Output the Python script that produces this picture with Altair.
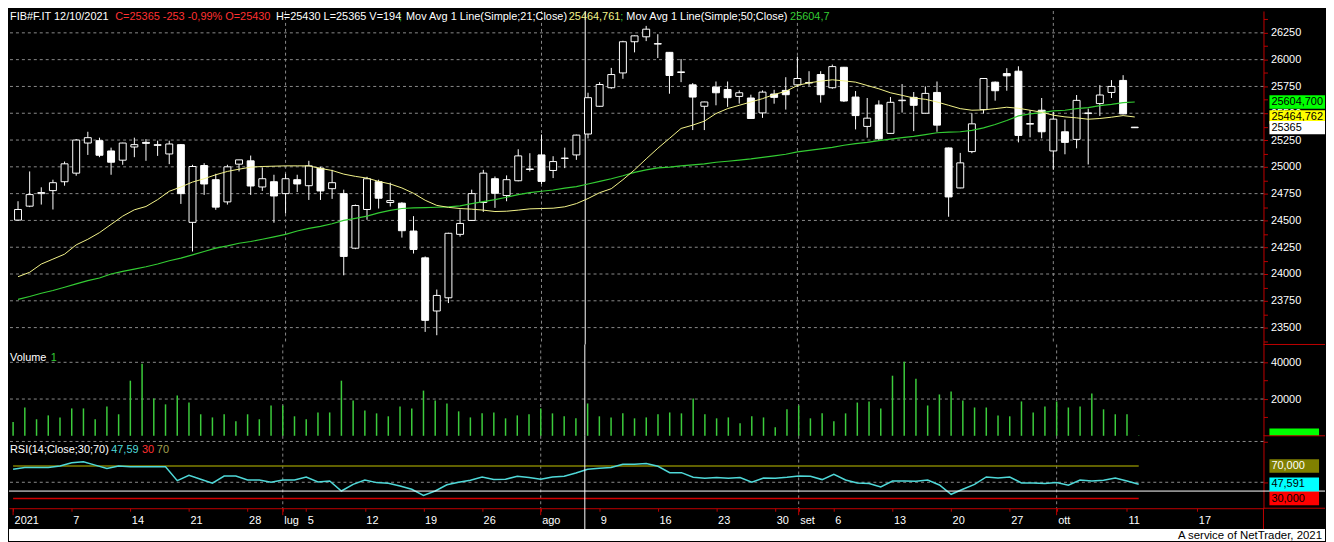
import altair as alt
import pandas as pd

FONT = "Liberation Sans"
AXRED = "#c00000"
GRID = "#8a8a8a"

# ---- data: one bar per trading day, index 0 = 31/05/2021 ... 96 = 12/10/2021 ----
opens = [24503, 24633, 24750, 24778, 24861, 24941, 25222, 25244, 25148, 25062,
         25185, 25228, 25200, 25120, 25207, 24482, 25012, 24880, 24673, 25025,
         25056, 24812, 24861, 24750, 24880, 24824, 24988, 24796, 24750, 24241,
         24602, 24861, 24667, 24661, 24401, 24151, 23655, 23778, 24370, 24500,
         24667, 24889, 24732, 24870, 24975, 25111, 24966, 25078, 25111, 25306,
         25565, 25738, 25876, 26167, 26213, 26145, 26068, 25880, 25765, 25565,
         25744, 25722, 25657, 25642, 25503, 25679, 25713, 25765, 25782, 25861,
         25738, 25929, 25651, 25377, 25577, 25312, 25617, 25648, 25500, 25694,
         25176, 24803, 25142, 25534, 25790, 25870, 25892, 25398, 25528, 25148,
         25327, 25256, 25497, 25590, 25694, 25806, 25370]
highs = [24679, 24957, 24809, 24880, 25049, 25259, 25327, 25272, 25179, 25225,
         25272, 25259, 25244, 25244, 25213, 25019, 25034, 24935, 25019, 25065,
         25105, 24994, 24926, 24935, 24926, 25056, 25000, 24972, 24787, 24648,
         24907, 24880, 24852, 24670, 24540, 24164, 23855, 24385, 24602, 24787,
         24972, 24910, 24920, 25164, 25127, 25302, 25099, 25179, 25300, 25691,
         25790, 25923, 26176, 26225, 26315, 26237, 26070, 26006, 25781, 25608,
         25796, 25796, 25713, 25673, 25713, 25719, 25836, 26028, 25892, 25892,
         25954, 25932, 25707, 25642, 25620, 25651, 25772, 25698, 25750, 25796,
         25180, 25130, 25500, 25828, 25796, 25920, 25938, 25528, 25642, 25512,
         25441, 25670, 25543, 25762, 25809, 25855, 25372]
lows = [24500, 24624, 24648, 24602, 24824, 24917, 25111, 25090, 24926, 25019,
        25090, 25056, 25102, 25025, 24654, 24210, 24738, 24599, 24648, 24957,
        24738, 24775, 24479, 24565, 24765, 24691, 24691, 24701, 23988, 24232,
        24506, 24611, 24630, 24340, 24191, 23460, 23429, 23729, 24349, 24495,
        24580, 24617, 24679, 24865, 24957, 24840, 24895, 24988, 25065, 25265,
        25560, 25728, 25821, 26068, 26173, 26015, 25682, 25790, 25343, 25343,
        25574, 25559, 25590, 25448, 25457, 25589, 25534, 25744, 25756, 25599,
        25728, 25605, 25349, 25272, 25247, 25308, 25506, 25333, 25497, 25327,
        24534, 24800, 25127, 25497, 25617, 25710, 25228, 25275, 25266, 24972,
        25117, 25173, 25022, 25475, 25642, 25490, 25365]
closes = [24602, 24741, 24760, 24852, 25028, 25250, 25272, 25108, 25043, 25222,
          25207, 25219, 25207, 25213, 24750, 25003, 24840, 24624, 25000, 25065,
          24821, 24889, 24728, 24889, 24840, 25009, 24775, 24852, 24164, 24639,
          24889, 24707, 24685, 24404, 24229, 23568, 23800, 24380, 24472, 24750,
          24941, 24753, 24880, 25102, 24980, 24864, 25049, 25082, 25296, 25645,
          25768, 25861, 26167, 26222, 26284, 26150, 25852, 25886, 25651, 25605,
          25691, 25645, 25691, 25451, 25697, 25648, 25673, 25824, 25787, 25673,
          25935, 25614, 25478, 25454, 25262, 25602, 25622, 25574, 25685, 25389,
          24719, 25037, 25401, 25824, 25710, 25849, 25293, 25404, 25327, 25445,
          25228, 25620, 25503, 25670, 25750, 25494, 25365]
ma21 = [23975, 24016, 24093, 24139, 24185, 24272, 24324, 24386, 24463, 24540,
        24599, 24630, 24694, 24772, 24812, 24858, 24889, 24926, 24957, 24978,
        24997, 25003, 25006, 25009, 25009, 25009, 24985, 24966, 24932, 24911,
        24895, 24864, 24840, 24803, 24753, 24688, 24640, 24622, 24611, 24605,
        24596, 24583, 24586, 24596, 24608, 24611, 24614, 24627, 24657, 24704,
        24759, 24796, 24880, 24972, 25074, 25173, 25265, 25358, 25389, 25426,
        25497, 25543, 25574, 25605, 25636, 25675, 25704, 25759, 25784, 25799,
        25812, 25802, 25790, 25759, 25728, 25691, 25667, 25642, 25630, 25605,
        25574, 25543, 25528, 25531, 25543, 25556, 25546, 25528, 25509, 25482,
        25466, 25457, 25444, 25451, 25463, 25478, 25465]
ma50 = [23763, 23790, 23821, 23846, 23877, 23908, 23938, 23963, 24000, 24025,
        24046, 24068, 24093, 24124, 24148, 24179, 24210, 24241, 24262, 24287,
        24303, 24324, 24346, 24370, 24401, 24426, 24444, 24469, 24500, 24519,
        24540, 24571, 24593, 24611, 24617, 24620, 24623, 24627, 24636, 24657,
        24676, 24694, 24716, 24741, 24759, 24772, 24784, 24802, 24815, 24840,
        24864, 24889, 24917, 24948, 24972, 24991, 24997, 25009, 25019, 25028,
        25043, 25052, 25062, 25074, 25089, 25102, 25117, 25139, 25154, 25167,
        25182, 25201, 25216, 25228, 25244, 25259, 25272, 25284, 25300, 25318,
        25324, 25327, 25340, 25364, 25395, 25432, 25475, 25494, 25506, 25522,
        25528, 25543, 25553, 25571, 25583, 25599, 25605]
volume = [7500, 15400, 9000, 11100, 10000, 14900, 14900, 9000, 16000, 11700,
          30000, 39200, 20300, 17100, 21900, 18100, 11700, 10000, 11700, 7900,
          11700, 9000, 16500, 16500, 10600, 9000, 12700, 12700, 30000, 19200,
          13800, 12200, 10600, 16000, 14900, 24600, 19200, 17600, 13300, 10000,
          12200, 12700, 9500, 11100, 11700, 14900, 12200, 10600, 9500, 17600,
          10600, 10000, 12200, 9500, 10000, 11700, 12700, 12200, 20300, 11700,
          9500, 10000, 6800, 10600, 10000, 4600, 14400, 16500, 9500, 12200,
          7900, 12200, 18100, 18700, 14900, 32700, 40300, 31100, 16500, 22500,
          24100, 19200, 15400, 15400, 11100, 10600, 18700, 12700, 16000, 18700,
          15400, 16000, 23000, 14400, 11700, 11700, 194]
rsi = [66, 68, 68, 68, 70, 74, 75, 71, 67, 70,
       69, 69, 69, 69, 52, 58.6, 53.7, 49, 57.7, 57.7,
       52.8, 52.8, 50, 52.8, 52.8, 56.5, 50.4, 51.6, 39.3, 47.5,
       52.8, 49.6, 48.8, 45.5, 41.4, 34, 39.3, 47, 50, 52.5,
       56.5, 53.3, 53.7, 57.4, 55.8, 53.7, 56.5, 57.4, 61.4, 66,
       67.2, 68, 72, 72, 72.9, 69.6, 61.8, 61.8, 56.1, 54.9,
       55.8, 54.9, 55.8, 50, 55.3, 54.9, 56.1, 57.7, 57.4, 53.3,
       59.8, 52.8, 49.2, 48.4, 44.2, 51.6, 51.6, 51.2, 52.8, 46.7,
       35.3, 41.4, 47.5, 56.5, 55.3, 56.5, 49.2, 49.2, 48.4, 49.6,
       46.3, 52.8, 51.6, 52.5, 55.3, 51.6, 47.59]

x_tick_idx = [0, 5, 10, 15, 20, 23, 25, 30, 35, 40, 45, 50, 55, 60, 65, 67,
              70, 75, 80, 85, 89, 95, 101]
x_tick_lbl = ["2021", "7", "14", "21", "28", "lug", "5", "12", "19", "26", "ago",
              "9", "16", "23", "30", "set", "6", "13", "20", "27", "ott", "11", "17"]
month_start_idx = [0, 23, 45, 67, 89]
month_line_idx = [23, 45, 67, 89]
crosshair_idx = [48.76]
crosshair_rsi = [39.24]

price_grid = [23500, 23750, 24000, 24250, 24500, 24750, 25000, 25250, 25500,
              25750, 26000, 26250]
price_ticks = [23375 + 125 * k for k in range(25)]
vol_grid = [20000, 40000]
vol_ticks = [10000, 20000, 30000, 40000]
rsi_grid = [50, 100]

price_tag_val = [25604.7, 25464.762, 25365]
price_tag_txt = ["25604,700", "25464,762", "25365"]
price_tag_bg = ["#00ff00", "#ffff00", "#ffffff"]
rsi_tag_val = [70, 47.591, 30]
rsi_tag_txt = ["70,000", "47,591", "30,000"]
rsi_tag_bg = ["#808000", "#00ffff", "#ff0000"]
rsi_tag_fg = ["#ffffff", "#000000", "#000000"]
vol_tag_val = [194]

# ---- layout ----
W = 1264
FULLW = 1326
H_MAIN, H_VOL, H_RSI, H_FOOT = 336, 92, 73, 33

ONE = pd.DataFrame({"k": [0]})
df = pd.DataFrame({"idx": list(range(len(closes))), "open": opens, "high": highs,
                   "low": lows, "close": closes, "ma21": ma21, "ma50": ma50,
                   "vol": volume, "rsi": rsi})
df["dir"] = ["up" if c >= o else "down" for o, c in zip(opens, closes)]

XS = alt.Scale(domain=[-0.35, 106.64], nice=False, zero=False)
YS_P = alt.Scale(domain=[23342.6, 26453.7], nice=False, zero=False)
YS_V = alt.Scale(domain=[0, 49700], nice=False, zero=False)
YS_R = alt.Scale(domain=[18.2, 106.96], nice=False, zero=False)

lbl_expr = " : ".join(f"datum.value == {v} ? '{l}'" for v, l in zip(x_tick_idx, x_tick_lbl)) + " : ''"
XAX = alt.Axis(orient="bottom", values=x_tick_idx, labelExpr=lbl_expr, grid=False,
               domainColor=AXRED, tickColor=AXRED, tickSize=3, labelColor="white",
               labelFont=FONT, labelFontSize=11, labelAlign="left", labelBaseline="top",
               labelPadding=3, labelOffset=1, labelOverlap=False, labelFlush=False,
               title=None)


def yaxis(values, expr, labels=True):
    return alt.Axis(orient="right", values=values, labelExpr=expr, format="d",
                    grid=False, domainColor=AXRED, tickColor=AXRED, tickSize=4,
                    labels=labels, labelColor="white", labelFont=FONT, labelFontSize=11,
                    labelPadding=3, labelOverlap=False, labelFlush=False, title=None)


YAX_P = yaxis(price_ticks, "datum.value % 250 == 0 ? datum.label : ''")
YAX_V = yaxis(vol_ticks, "datum.value % 20000 == 0 ? datum.label : ''")
YAX_R = yaxis(rsi_grid, "''", labels=False)


def X(field, axis=None):
    return alt.X(f"{field}:Q", scale=XS, axis=axis)


def txt(s, x, y, color, size=11, align="left", baseline="middle"):
    return alt.Chart(ONE).mark_text(text=s, align=align, baseline=baseline, color=color,
                                    font=FONT, fontSize=size, clip=False).encode(
        x=alt.value(x), y=alt.value(y))


def hline_px(x, x2, y, color):
    return alt.Chart(ONE).mark_rule(color=color, clip=False).encode(
        x=alt.value(x), x2=alt.value(x2), y=alt.value(y))


def vline_px(x, y, y2, color):
    return alt.Chart(ONE).mark_rule(color=color, clip=False).encode(
        x=alt.value(x), y=alt.value(y), y2=alt.value(y2))


months_df = pd.DataFrame({"m": month_line_idx})
cross_df = pd.DataFrame({"c": crosshair_idx})

# ---------------- main price panel ----------------
def YP(f):
    return alt.Y(f"{f}:Q", scale=YS_P, axis=YAX_P)


main_layers = [
    alt.Chart(pd.DataFrame({"g": price_grid})).mark_rule(color=GRID, strokeDash=[3, 3]).encode(y=YP("g")),
    alt.Chart(months_df).mark_rule(color=GRID, strokeDash=[3, 3]).encode(x=X("m")),
    alt.Chart(cross_df).mark_rule(color="white").encode(x=X("c")),
    alt.Chart(df).mark_rule(color="white", strokeWidth=1).encode(x=X("idx"), y=YP("low"), y2="high:Q"),
    alt.Chart(df).mark_bar(size=7, stroke="white", strokeWidth=1).encode(
        x=X("idx"), y=YP("open"), y2="close:Q",
        fill=alt.Fill("dir:N", scale=alt.Scale(domain=["up", "down"], range=["#000000", "#ffffff"]), legend=None)),
    alt.Chart(df).mark_line(color="#33cc33", strokeWidth=1.2).encode(x=X("idx"), y=YP("ma50")),
    alt.Chart(df).mark_line(color="#f4f48a", strokeWidth=1).encode(x=X("idx"), y=YP("ma21")),
]
tags_p = pd.DataFrame({"i": [0, 1, 2], "v": price_tag_val, "t": price_tag_txt, "bg": price_tag_bg})
for i in range(3):
    main_layers.append(
        alt.Chart(tags_p).transform_filter(f"datum.i == {i}")
        .transform_calculate(lo="datum.v - 62", hi="datum.v + 62")
        .mark_rect(clip=False).encode(x=alt.value(1270), x2=alt.value(FULLW),
                                      y=YP("lo"), y2="hi:Q", fill=alt.Fill("bg:N", scale=None)))
    main_layers.append(
        alt.Chart(tags_p).transform_filter(f"datum.i == {i}")
        .mark_text(align="left", baseline="middle", font=FONT, fontSize=11, color="black", clip=False)
        .encode(x=alt.value(1272), y=YP("v"), text="t:N"))

main_layers += [
    txt("FIB#F.IT 12/10/2021", 1, 0, "white", baseline="top"),
    txt("C=25365 -253 -0,99% O=25430", 107, 0, "#ff3030", baseline="top"),
    txt("H=25430 L=25365 V=194", 269, 0, "white", baseline="top"),
    txt(";", 393, 0, "#33cc33", baseline="top"),
    txt("Mov Avg 1 Line(Simple;21;Close)", 400, 0, "white", baseline="top"),
    txt("25464,761", 564, 0, "#f4f48a", baseline="top"),
    txt(";", 616, 0, "#33cc33", baseline="top"),
    txt("Mov Avg 1 Line(Simple;50;Close)", 622, 0, "white", baseline="top"),
    txt("25604,7", 787, 0, "#33cc33", baseline="top"),
]
main = alt.layer(*main_layers).properties(width=W, height=H_MAIN)

# ---------------- volume panel ----------------
def YV(f):
    return alt.Y(f"{f}:Q", scale=YS_V, axis=YAX_V)


vol_layers = [
    alt.Chart(pd.DataFrame({"g": vol_grid})).mark_rule(color=GRID, strokeDash=[3, 3]).encode(y=YV("g")),
    alt.Chart(months_df).mark_rule(color=GRID, strokeDash=[3, 3]).encode(x=X("m")),
    alt.Chart(df).transform_calculate(z0="0").mark_rule(color="#3ccc3c", strokeWidth=1.5).encode(
        x=X("idx"), y=YV("vol"), y2="z0:Q"),
    alt.Chart(cross_df).mark_rule(color="white").encode(x=X("c")),
    alt.Chart(pd.DataFrame({"v": vol_tag_val})).transform_calculate(lo="0", hi="datum.v + 3800")
    .mark_rect(color="#00ff00", clip=False).encode(x=alt.value(1270), x2=alt.value(1320), y=YV("lo"), y2="hi:Q"),
    hline_px(W, FULLW, 0, AXRED),
    txt("Volume", 1, 14, "white"),
    txt("1", 42, 14, "#33cc33"),
]
volp = alt.layer(*vol_layers).properties(width=W, height=H_VOL)

# ---------------- RSI panel ----------------
def YR(f):
    return alt.Y(f"{f}:Q", scale=YS_R, axis=YAX_R)


def XR(f):
    return X(f, axis=XAX)


levels = pd.DataFrame({"a": [0, 0], "b": [96, 96], "lev": [70, 30], "col": ["#808000", "#d00000"]})
tags_r = pd.DataFrame({"i": [0, 1, 2], "v": rsi_tag_val, "t": rsi_tag_txt, "bg": rsi_tag_bg, "fg": rsi_tag_fg})
rsi_layers = [
    alt.Chart(pd.DataFrame({"g": rsi_grid})).mark_rule(color=GRID, strokeDash=[3, 3]).encode(y=YR("g")),
    alt.Chart(months_df).mark_rule(color=GRID, strokeDash=[3, 3]).encode(x=XR("m")),
    alt.Chart(levels).mark_rule(strokeWidth=1.5).encode(x=XR("a"), x2="b:Q", y=YR("lev"),
                                                        color=alt.Color("col:N", scale=None)),
    alt.Chart(df).mark_line(color="#4fd8d8", strokeWidth=1.5).encode(x=XR("idx"), y=YR("rsi")),
    alt.Chart(cross_df).mark_rule(color="white", clip=False).encode(
        x=XR("c"), y=alt.value(0), y2=alt.value(H_RSI + 21)),
    alt.Chart(pd.DataFrame({"r": crosshair_rsi})).mark_rule(color="white", clip=False).encode(
        y=YR("r"), x=alt.value(0), x2=alt.value(FULLW)),
    alt.Chart(pd.DataFrame({"m": month_start_idx})).mark_rule(color=AXRED, clip=False).encode(
        x=XR("m"), y=alt.value(H_RSI), y2=alt.value(H_RSI + 7)),
    hline_px(W, FULLW, 0, AXRED),
    hline_px(W, FULLW, H_RSI, AXRED),
    vline_px(W, H_RSI, H_RSI + 21, AXRED),
]
for i in range(3):
    rsi_layers.append(
        alt.Chart(tags_r).transform_filter(f"datum.i == {i}")
        .transform_calculate(lo="datum.v - 8.2", hi="datum.v + 8.2")
        .mark_rect(clip=False).encode(x=alt.value(1270), x2=alt.value(1320),
                                      y=YR("lo"), y2="hi:Q", fill=alt.Fill("bg:N", scale=None)))
    rsi_layers.append(
        alt.Chart(tags_r).transform_filter(f"datum.i == {i}")
        .mark_text(align="left", baseline="middle", font=FONT, fontSize=11, clip=False)
        .encode(x=alt.value(1272), y=YR("v"), text="t:N", color=alt.Color("fg:N", scale=None)))
rsi_layers += [
    txt("RSI(14;Close;30;70)", 1, 14, "white"),
    txt("47,59", 103, 14, "#4fd8d8"),
    txt("30", 134, 14, "#ff3030"),
    txt("70", 149, 14, "#a0a050"),
]
rsip = alt.layer(*rsi_layers).properties(width=W, height=H_RSI)

# ---------------- footer ----------------
foot = alt.layer(
    alt.Chart(ONE).mark_rect(color="white").encode(
        x=alt.value(0), x2=alt.value(FULLW), y=alt.value(21), y2=alt.value(H_FOOT)),
    txt("A service of NetTrader, 2021", 1323, 31, "black", size=11.5, align="right", baseline="alphabetic"),
).properties(width=FULLW, height=H_FOOT)

chart = alt.vconcat(main, volp, rsip, foot, spacing=0, bounds="flush").properties(
    background="#000000", padding=0
).configure_view(stroke=None)

chart.save("out.html", embed_options={"renderer": "svg", "actions": False})
